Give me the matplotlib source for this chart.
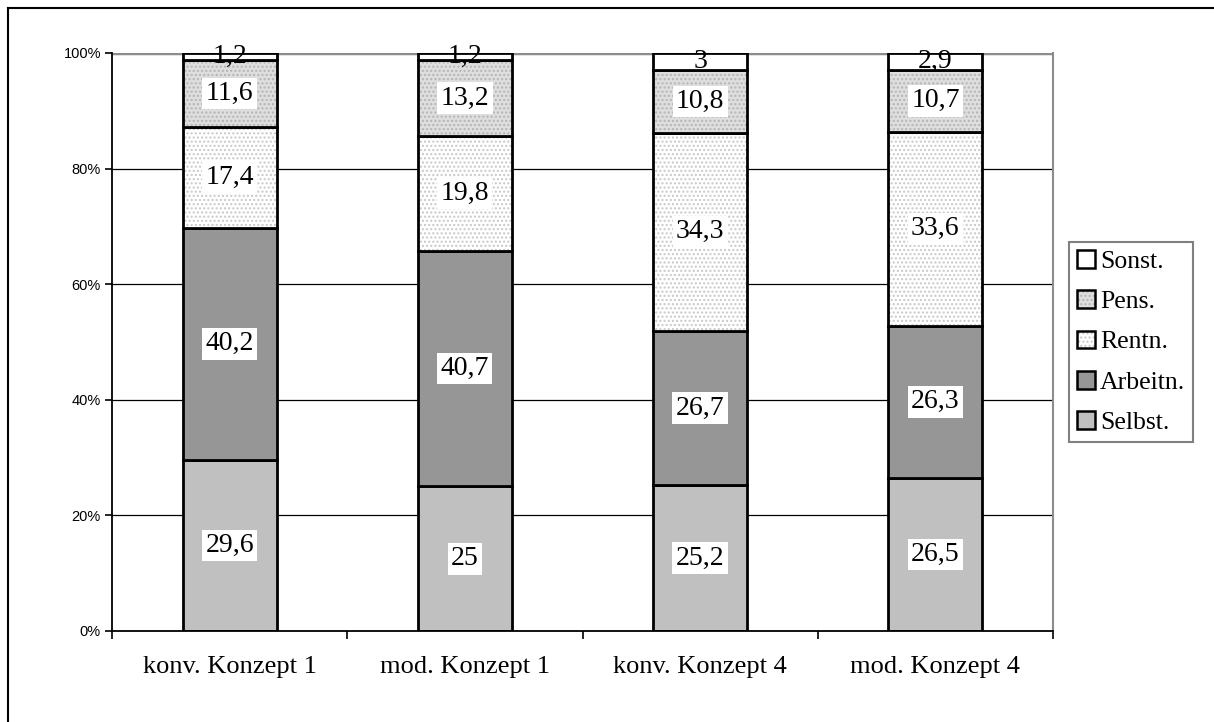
import matplotlib.pyplot as plt
from matplotlib.patches import Patch
from matplotlib.lines import Line2D
from matplotlib.colors import to_rgba
import numpy as np

plt.rcParams['hatch.linewidth'] = 1.0

# Data
categories = ["konv. Konzept 1", "mod. Konzept 1", "konv. Konzept 4", "mod. Konzept 4"]
series_names = ["Selbst.", "Arbeitn.", "Rentn.", "Pens.", "Sonst."]
selbst = [29.6, 25, 25.2, 26.5]
arbeitn = [40.2, 40.7, 26.7, 26.3]
rentn = [17.4, 19.8, 34.3, 33.6]
pens = [11.6, 13.2, 10.8, 10.7]
sonst = [1.2, 1.2, 3, 2.9]
y_ticks = [0, 20, 40, 60, 80, 100]

# Styles
colors = ["#c0c0c0", "#969696", "#ffffff", "#dedede", "#ffffff"]
hatches = [None, None, "....", "....", None]
hatch_colors = ["black", "black", "#c8c8c8", "#b4b4b4", "black"]

fig = plt.figure(figsize=(12.14, 7.22), dpi=100)
ax = fig.add_axes([112 / 1214, 1 - 631 / 722, (1053 - 112) / 1214, (631 - 53) / 722])

# outer frame (left and top only visible)
fig.add_artist(Line2D([8 / 1214, 8 / 1214], [0, 1 - 8 / 722], color="black", lw=1.5, transform=fig.transFigure))
fig.add_artist(Line2D([8 / 1214, 1], [1 - 8 / 722, 1 - 8 / 722], color="black", lw=1.5, transform=fig.transFigure))

data = np.array([selbst, arbeitn, rentn, pens, sonst], dtype=float)
pct = data / data.sum(axis=0) * 100
x = np.arange(len(categories))
bottom = np.zeros(len(categories))

# gridlines
for t in y_ticks[1:-1]:
    ax.axhline(t, color="black", lw=0.9, zorder=0)
ax.axhline(100, color="#8c8c8c", lw=2.5, zorder=0)

for i, name in enumerate(series_names):
    bars = ax.bar(x, pct[i], 0.40, bottom=bottom, color=colors[i], edgecolor="black",
                  lw=2, hatch=hatches[i], zorder=2)
    for b in bars:
        b._hatch_color = to_rgba(hatch_colors[i])
    for j in range(len(categories)):
        label = f"{data[i, j]:g}".replace(".", ",")
        yc = bottom[j] + pct[i, j] / 2
        if name == "Sonst.":
            ax.text(x[j], yc, label, ha="center", va="center", fontsize=20,
                    family="Liberation Serif", zorder=4)
        else:
            ax.text(x[j], yc, label, ha="center", va="center", fontsize=20,
                    family="Liberation Serif", zorder=4,
                    bbox=dict(facecolor="white", edgecolor="none", boxstyle="square,pad=0.12"))
    bottom += pct[i]

ax.set_xlim(-0.5, len(categories) - 0.5)
ax.set_ylim(0, 100)
ax.set_yticks(y_ticks)
ax.set_yticklabels([f"{t}%" for t in y_ticks], family="Liberation Sans", fontsize=10.5)
ax.set_xticks(x)
ax.set_xticklabels(categories, family="Liberation Serif", fontsize=19)
ax.set_xticks(np.arange(-0.5, len(categories)), minor=True)
ax.tick_params(axis="x", which="major", length=0, pad=18)
ax.tick_params(axis="x", which="minor", length=6, width=1.2, direction="out")
ax.tick_params(axis="y", length=5, width=1.2, direction="out", pad=3)
ax.spines["top"].set_visible(False)
ax.spines["right"].set_color("#8c8c8c")
ax.spines["right"].set_linewidth(1.5)
ax.spines["left"].set_linewidth(1.3)
ax.spines["bottom"].set_linewidth(1.3)

# legend
order = list(reversed(range(len(series_names))))
handles = []
for i in order:
    p = Patch(facecolor=colors[i], edgecolor="black", lw=1.8, hatch=hatches[i], label=series_names[i])
    handles.append(p)
leg = fig.legend(handles=handles, loc="center left", bbox_to_anchor=(1069 / 1214, 1 - 342 / 722),
                 frameon=True, fancybox=False, prop={"family": "Liberation Serif", "size": 18.5},
                 handlelength=0.7, handleheight=0.7, handletextpad=0.2, labelspacing=0.68,
                 borderpad=0.3, borderaxespad=0)
for h, i in zip(leg.legend_handles, order):
    h._hatch_color = to_rgba(hatch_colors[i])
leg.get_frame().set_edgecolor("#606060")
leg.get_frame().set_linewidth(1.5)

plt.savefig("out.png", dpi=100)
